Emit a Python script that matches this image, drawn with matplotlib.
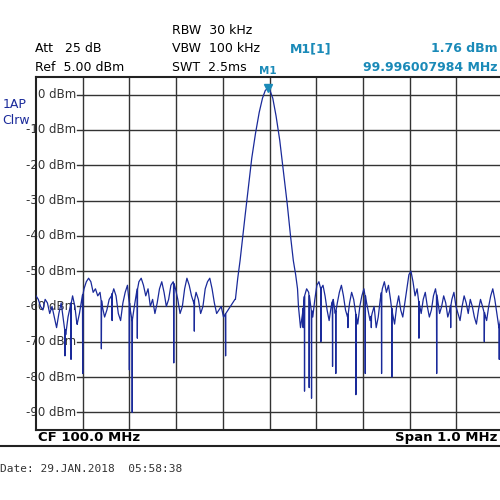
import numpy as np
import matplotlib
matplotlib.use('Agg')
import matplotlib.pyplot as plt

# left noise floor, 99.500 .. 99.926 MHz
left_lvl = [-57,-58,-60,-61,-58,-59,-62,-60,-63,-66,-62,-59,-64,-68,-63,-60,-57,-60,-65,-62,
            -58,-55,-53,-52,-53,-56,-55,-57,-56,-60,-63,-61,-58,-57,-55,-57,-62,-64,-59,-56,
            -54,-60,-64,-60,-56,-53,-52,-54,-57,-55,-60,-58,-62,-59,-55,-53,-56,-60,-58,-54,
            -53,-55,-58,-62,-60,-55,-52,-54,-57,-59,-56,-58,-62,-60,-55,-53,-52,-55,-59,-62,
            -61,-60,-63,-62,-61,-60,-59,-58]
# main lobe around 99.996 MHz
lobe_f = [99.927,99.932,99.937,99.942,99.948,99.955,99.962,99.970,99.978,99.985,99.991,
          99.996,100.001,100.007,100.014,100.022,100.030,100.038,100.045,100.051,100.056,100.060]
lobe_lvl = [-58,-52,-47,-41,-34,-26,-18,-11,-5,-1,1.2,
            1.76,1.2,-1,-6,-13,-22,-31,-40,-47,-51,-55]
# right noise floor, 100.062 .. 100.5 MHz
right_lvl = [-60,-66,-62,-57,-55,-56,-60,-63,-58,-54,-53,-55,-54,-57,-61,-64,-60,-58,-62,-59,
             -56,-54,-57,-61,-63,-59,-56,-58,-62,-65,-60,-57,-55,-58,-61,-64,-62,-60,-66,-63,
             -58,-55,-53,-56,-54,-58,-62,-65,-60,-57,-61,-63,-59,-55,-51,-50,-53,-57,-55,-59,
             -62,-58,-56,-60,-63,-61,-57,-55,-58,-62,-60,-57,-59,-63,-61,-58,-56,-60,-62,-64,
             -60,-57,-59,-62,-58,-60,-63,-65,-61,-58,-60,-62,-64,-60,-57,-55,-58,-62,-66,-63,
             -60]
# narrow dropouts (freq MHz, level dBm)
dip_f = [99.562,99.575,99.588,99.600,99.640,99.663,99.700,99.706,99.717,99.795,99.839,99.906,
         100.072,100.075,100.085,100.090,100.110,100.135,100.142,100.168,100.185,100.205,
         100.218,100.240,100.262,100.320,100.358,100.388,100.460,100.492]
dip_lvl = [-74,-75,-65,-79,-72,-64,-78,-90,-69,-76,-67,-74,
           -66,-84,-83,-86,-70,-77,-79,-66,-85,-79,-66,-79,-80,-69,-79,-66,-70,-75]

fl = np.linspace(99.5, 99.926, len(left_lvl))
fr = np.linspace(100.062, 100.5, len(right_lvl))
f = np.concatenate([fl, lobe_f, fr])
y = np.concatenate([left_lvl, lobe_lvl, right_lvl]).astype(float)
ff, yy = list(f), list(y)
for df, dl in zip(dip_f, dip_lvl):
    i = np.searchsorted(ff, df)
    base = np.interp(df, ff, yy)
    ff[i:i] = [df - 0.0005, df, df + 0.0005]
    yy[i:i] = [base, dl, base]

blue = '#1a2a9a'
cyan = '#1a8ab8'
fig = plt.figure(figsize=(5, 5), dpi=100)
ax = fig.add_axes([0.072, 0.14, 0.934, 0.706])
ax.plot(ff, yy, color=blue, lw=0.9, zorder=3)
ax.set_xlim(99.5, 100.5)
ax.set_ylim(-95, 5)
for k in range(1, 10):
    ax.axvline(99.5 + k * 0.1, color='#333333', lw=1.0, zorder=0)
for v in range(0, -100, -10):
    ax.plot([99.587, 99.6], [v, v], color='#333333', lw=1.0, zorder=1)
    ax.axhline(v, xmin=0.1, color='#333333', lw=1.0, zorder=0)
    ax.text(99.586, v, '%d dBm' % v, fontsize=8.5, va='center', ha='right', color='#333333', zorder=2)
ax.set_xticks([]); ax.set_yticks([])
for s in ax.spines.values():
    s.set_color('#222222'); s.set_linewidth(1.5)
ax.plot([99.996], [1.76], marker='v', color=cyan, ms=6, zorder=4)
ax.text(99.996, 5.3, 'M1', color=cyan, fontsize=7.5, ha='center', va='bottom', weight='bold')

fig.text(0.07, 0.895, 'Att   25 dB', fontsize=9)
fig.text(0.07, 0.858, 'Ref  5.00 dBm', fontsize=9)
fig.text(0.345, 0.932, 'RBW  30 kHz', fontsize=9)
fig.text(0.345, 0.895, 'VBW  100 kHz', fontsize=9)
fig.text(0.345, 0.858, 'SWT  2.5ms', fontsize=9)
fig.text(0.58, 0.895, 'M1[1]', fontsize=9, color=cyan, weight='bold')
fig.text(0.995, 0.895, '1.76 dBm', fontsize=9, color=cyan, weight='bold', ha='right')
fig.text(0.995, 0.858, '99.996007984 MHz', fontsize=9, color=cyan, weight='bold', ha='right')
fig.text(0.005, 0.785, '1AP', fontsize=9, color=blue)
fig.text(0.005, 0.752, 'Clrw', fontsize=9, color=blue)
fig.add_artist(plt.Line2D([0, 1], [0.108, 0.108], color='#222222', lw=1.5))
fig.text(0.075, 0.118, 'CF 100.0 MHz', fontsize=9.5, weight='bold')
fig.text(0.995, 0.118, 'Span 1.0 MHz', fontsize=9.5, weight='bold', ha='right')
fig.text(0.0, 0.055, 'Date: 29.JAN.2018  05:58:38', fontsize=8, family='DejaVu Sans Mono', color='#333333')
fig.savefig('out.png')
